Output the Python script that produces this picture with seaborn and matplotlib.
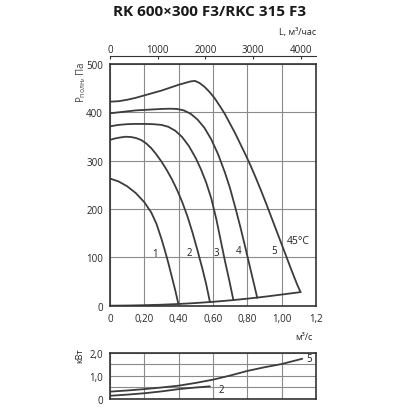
import pandas as pd
import matplotlib
matplotlib.use("Agg")
import matplotlib.pyplot as plt
import seaborn as sns

# --- data (Q in m3/s, P in Pa, N in kW) ---
c1_q = [0, 0.05, 0.10, 0.15, 0.20, 0.24, 0.27, 0.30, 0.32, 0.34, 0.36, 0.38, 0.398]
c1_p = [263, 257, 247, 233, 214, 193, 170, 138, 114, 88, 60, 32, 4]
c2_q = [0, 0.03, 0.06, 0.09, 0.12, 0.15, 0.18, 0.21, 0.24, 0.27, 0.30, 0.33, 0.36,
        0.39, 0.42, 0.45, 0.48, 0.51, 0.54, 0.56, 0.582]
c2_p = [343, 346, 348, 349.5, 349, 347, 343, 336, 326, 313, 298, 281, 262,
        240, 215, 186, 152, 114, 74, 45, 8]
c3_q = [0, 0.05, 0.10, 0.15, 0.20, 0.25, 0.30, 0.34, 0.38, 0.42, 0.46, 0.50, 0.53,
        0.56, 0.59, 0.62, 0.645, 0.67, 0.695, 0.718]
c3_p = [371, 374, 375.5, 376, 376, 375.5, 374, 370, 362, 349, 330, 305, 282,
        255, 222, 178, 135, 92, 52, 13]
c4_q = [0, 0.05, 0.10, 0.15, 0.20, 0.25, 0.30, 0.35, 0.39, 0.43, 0.47, 0.51, 0.55,
        0.59, 0.63, 0.67, 0.70, 0.73, 0.76, 0.79, 0.82, 0.84, 0.858]
c4_p = [398, 400, 402, 404, 405, 406, 407, 407.5, 407, 404, 397, 385, 368,
        344, 313, 275, 242, 203, 162, 118, 73, 43, 16]
c5_q = [0, 0.05, 0.10, 0.15, 0.20, 0.25, 0.30, 0.35, 0.40, 0.44, 0.47, 0.495, 0.52,
        0.55, 0.58, 0.61, 0.64, 0.67, 0.70, 0.73, 0.76, 0.79, 0.82, 0.85, 0.88,
        0.91, 0.94, 0.97, 1.00, 1.03, 1.06, 1.09, 1.11]
c5_p = [422, 423, 426, 430, 435, 440, 445, 451, 457, 461, 464, 465, 461,
        453, 442, 429, 413, 396, 376, 356, 334, 312, 289, 264, 238,
        211, 183, 155, 127, 99, 71, 44, 28]
base_q = [0, 0.1, 0.2, 0.3, 0.4, 0.5, 0.6, 0.7, 0.8, 0.9, 1.0, 1.11]
base_p = [0, 0.3, 1, 2, 3.5, 5.5, 8, 11, 14.5, 18.5, 23, 28]

curve_labels = ["1", "2", "3", "4", "5"]
label_q = [0.262, 0.462, 0.621, 0.747, 0.955]
label_p = [107, 109, 111, 114, 114]

n5_q = [0, 0.1, 0.2, 0.3, 0.4, 0.5, 0.6, 0.7, 0.8, 0.9, 1.0, 1.12]
n5_n = [0.32, 0.37, 0.43, 0.50, 0.58, 0.70, 0.84, 1.02, 1.22, 1.38, 1.52, 1.75]
n2_q = [0, 0.1, 0.2, 0.3, 0.4, 0.5, 0.582]
n2_n = [0.14, 0.19, 0.25, 0.33, 0.43, 0.50, 0.55]

q_ticks = [0, 0.2, 0.4, 0.6, 0.8, 1.0, 1.2]
q_ticklabels = ["0", "0,20", "0,40", "0,60", "0,80", "1,00", "1,2"]
p_ticks = [0, 100, 200, 300, 400, 500]
l_ticks = [0, 1000, 2000, 3000, 4000]

# long-form tables
rows = []
for name, qs, ps in [("1", c1_q, c1_p), ("2", c2_q, c2_p), ("3", c3_q, c3_p),
                     ("4", c4_q, c4_p), ("5", c5_q, c5_p), ("base", base_q, base_p)]:
    for q, p in zip(qs, ps):
        rows.append({"curve": name, "Q": q, "P": p})
df = pd.DataFrame(rows)

rows = []
for name, qs, ns in [("2", n2_q, n2_n), ("5", n5_q, n5_n)]:
    for q, n in zip(qs, ns):
        rows.append({"curve": name, "Q": q, "N": n})
dfn = pd.DataFrame(rows)

sns.set_style("white")
plt.rcParams['font.family'] = ['Open Sans', 'DejaVu Sans']
line_col = "#3c3c3c"
grid_col = "#8a8a8a"

fig = plt.figure(figsize=(4.1, 4.1), dpi=100)
ax = fig.add_axes([0.2683, 0.252, 0.5024, 0.5895])
axn = fig.add_axes([0.2683, 0.0244, 0.5024, 0.1122])

pal = {k: line_col for k in df["curve"].unique()}
sns.lineplot(data=df, x="Q", y="P", hue="curve", units="curve", estimator=None,
             sort=False, palette=pal, legend=False, linewidth=1.3, ax=ax)
ax.set_xlim(0, 1.2)
ax.set_ylim(0, 500)
ax.set_xticks(q_ticks)
ax.set_xticklabels(q_ticklabels)
ax.set_yticks(p_ticks)
ax.tick_params(labelsize=7, length=0, pad=5)
ax.grid(True, color=grid_col, linewidth=0.8)
ax.set_xlabel("")
ax.set_ylabel("")
for s in ax.spines.values():
    s.set_visible(True)
    s.set_color("#333333")
    s.set_linewidth(1.2)

for lab, q, p in zip(curve_labels, label_q, label_p):
    ax.text(q, p, lab, fontsize=7, ha="center", va="center", color="#222222")
ax.text(1.095, 134, "45°C", fontsize=7.5, ha="center", va="center", color="#222222")

# top axis in m3/h
sec = ax.secondary_xaxis("top", functions=(lambda q: q * 3600, lambda l: l / 3600))
sec.set_xticks(l_ticks)
sec.spines["top"].set_position(("outward", 6))
sec.spines["top"].set_color("#333333")
sec.tick_params(labelsize=7, length=2.5, direction="in", pad=0.5, color="#333333")

# power chart
paln = {k: line_col for k in dfn["curve"].unique()}
sns.lineplot(data=dfn, x="Q", y="N", hue="curve", units="curve", estimator=None,
             sort=False, palette=paln, legend=False, linewidth=1.3, ax=axn)
axn.set_xlim(0, 1.2)
axn.set_ylim(0, 2.0)
axn.set_xticks(q_ticks)
axn.set_xticklabels([])
axn.set_yticks([0, 0.5, 1.0, 1.5, 2.0])
axn.set_yticklabels(["0", "", "1,0", "", "2,0"])
axn.tick_params(labelsize=7, length=0, pad=5)
axn.grid(True, color=grid_col, linewidth=0.8)
axn.set_xlabel("")
axn.set_ylabel("")
for s in axn.spines.values():
    s.set_visible(True)
    s.set_color("#333333")
    s.set_linewidth(1.2)
axn.text(1.16, 1.74, "5", fontsize=7, ha="center", va="center", color="#222222")
axn.text(0.65, 0.43, "2", fontsize=7, ha="center", va="center", color="#222222")

# titles and axis captions
fig.text(0.512, 0.97, "RK 600×300 F3/RKC 315 F3", fontsize=11, fontweight="bold",
         ha="center", va="center", color="#1a1a1a")
fig.text(0.771, 0.92, "L, м³/час", fontsize=6.5, ha="right", va="center", color="#222222")
fig.text(0.197, 0.80, r"$\mathregular{P_{полн}}$, Па", fontsize=7, rotation=90,
         ha="center", va="center", color="#444444")
fig.text(0.74, 0.178, "м³/с", fontsize=6.5, ha="center", va="center", color="#222222")
fig.text(0.195, 0.132, "кВт", fontsize=6.5, rotation=90, ha="center", va="center",
         color="#222222")

fig.savefig("out.png", dpi=100, facecolor="white")
